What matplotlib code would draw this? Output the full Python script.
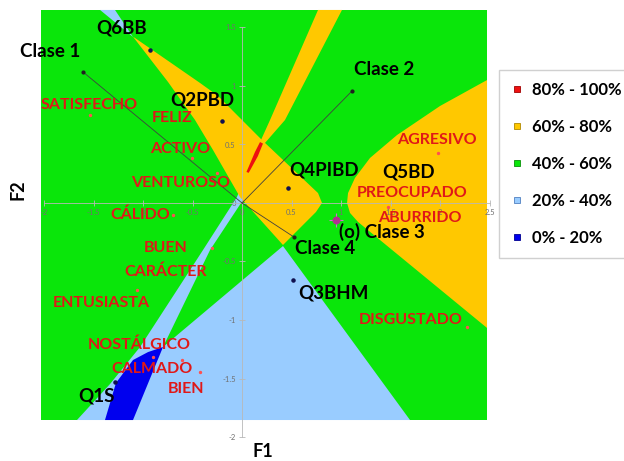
import matplotlib
matplotlib.use("Agg")
import matplotlib.pyplot as plt
from matplotlib.patches import Polygon, Rectangle
from matplotlib.lines import Line2D
from matplotlib.ticker import FuncFormatter

plt.rcParams['font.family'] = ['Lato', 'DejaVu Sans']

# ---- datos (coordenadas F1, F2) ----
# extension del mapa de probabilidad
mapa_f1 = [-2.03, 2.475]
mapa_f2 = [-1.855, 1.65]

# zonas del mapa (vertices F1, F2)
zona_60_80_izq = [(-1.10, 1.42), (-0.747, 1.034), (-0.475, 0.71), (-0.293, 0.453),
                  (-0.02, 0.05), (0.414, -0.359), (0.747, -0.077), (0.808, 0.0),
                  (0.768, 0.085), (0.202, 0.538), (-0.242, 0.915), (-0.424, 1.026),
                  (-1.08, 1.41)]
zona_60_80_fina = [(0.768, 1.65), (1.010, 1.65), (0.434, 0.709), (0.232, 0.513),
                   (0.081, 0.282), (0.030, 0.239), (0.101, 0.368), (0.283, 0.709)]
zona_60_80_der = [(2.475, 1.051), (2.0, 0.829), (1.566, 0.581), (1.293, 0.385),
                  (1.141, 0.214), (1.071, 0.085), (1.061, 0.0), (1.091, -0.085),
                  (1.172, -0.162), (2.475, -1.068)]
zona_80_100 = [(0.045, 0.265), (0.131, 0.436), (0.182, 0.521), (0.212, 0.508),
               (0.160, 0.400), (0.068, 0.258)]
zona_20_40 = [(-0.010, 0.137), (0.030, 0.051), (-0.323, -0.402), (-0.798, -1.231),
              (0.414, -0.368), (1.697, -1.855), (-1.667, -1.855), (-1.333, -1.547),
              (-1.030, -1.231), (-0.394, -0.402), (-0.051, 0.051)]
zona_20_40_sup = [(-1.434, 1.65), (-1.283, 1.65), (-1.101, 1.419)]
zona_0_20 = [(-0.798, -1.231), (-0.949, -1.274), (-1.101, -1.342), (-1.273, -1.538),
             (-1.384, -1.855), (-1.101, -1.855), (-0.939, -1.521)]

# clases (vectores desde el origen)
clases = ['Clase 1', 'Clase 2', 'Clase 4']
clases_f1 = [-1.606, 1.111, 0.525]
clases_f2 = [1.120, 0.957, -0.291]
clase3_f1, clase3_f2 = 0.949, -0.145

# preguntas
preguntas = ['Q6BB', 'Q2PBD', 'Q4PIBD', 'Q3BHM', 'Q1S']
preguntas_f1 = [-0.929, -0.202, 0.465, 0.515, -1.283]
preguntas_f2 = [1.308, 0.701, 0.128, -0.658, -1.530]

# emociones (puntos rojos)
emociones_f1 = [-1.535, -0.505, -0.253, -0.697, -0.303, -1.061, -0.899, -0.606,
                -0.424, 1.980, 1.475, 2.273]
emociones_f2 = [0.752, 0.385, 0.256, -0.103, -0.385, -0.744, -1.316, -1.342,
                -1.444, 0.427, -0.034, -1.060]

# leyenda
rangos = ['80% - 100%', '60% - 80%', '40% - 60%', '20% - 40%', '0% - 20%']
colores = ['#ee1010', '#ffc800', '#0ae60a', '#99ccff', '#0000ee']
bordes = ['#a00000', '#b08800', '#089008', '#5080c0', '#000090']

# ---- posiciones de etiquetas (F1, F2) ----
etiquetas_negras = [('Q6BB', -1.212, 1.496), ('Clase 1', -1.939, 1.291),
                    ('Q2PBD', -0.404, 0.880), ('Clase 2', 1.434, 1.137),
                    ('Q4PIBD', 0.828, 0.282), ('Q5BD', 1.687, 0.262),
                    ('(o) Clase 3', 1.414, -0.248), ('Clase 4', 0.838, -0.385),
                    ('Q3BHM', 0.919, -0.769), ('Q1S', -1.475, -1.650)]
etiquetas_rojas = [('SATISFECHO', -1.545, 0.838), ('FELIZ', -0.707, 0.726),
                   ('ACTIVO', -0.626, 0.462), ('VENTUROSO', -0.616, 0.171),
                   ('CÁLIDO', -1.030, -0.103), ('BUEN', -0.768, -0.385),
                   ('CARÁCTER', -0.768, -0.590), ('ENTUSIASTA', -1.424, -0.855),
                   ('NOSTÁLGICO', -1.040, -1.214), ('CALMADO', -0.909, -1.419),
                   ('BIEN', -0.566, -1.590), ('AGRESIVO', 1.970, 0.538),
                   ('PREOCUPADO', 1.717, 0.085), ('ABURRIDO', 1.798, -0.128),
                   ('DISGUSTADO', 1.707, -1.0)]

fig = plt.figure(figsize=(6.24, 4.61), dpi=100)
ax = fig.add_axes([0, 0, 1, 1])
ax.set_xlim(-242 / 99, 382 / 99)
ax.set_ylim(-258 / 117, 203 / 117)
ax.set_facecolor('none')

# mapa
ax.add_patch(Rectangle((mapa_f1[0], mapa_f2[0]), mapa_f1[1] - mapa_f1[0],
                       mapa_f2[1] - mapa_f2[0], facecolor=colores[2], edgecolor='none', zorder=0))
for zona, col in [(zona_20_40, colores[3]), (zona_20_40_sup, colores[3]),
                  (zona_0_20, colores[4]), (zona_60_80_izq, colores[1]),
                  (zona_60_80_der, colores[1]), (zona_60_80_fina, colores[1]),
                  (zona_80_100, colores[0])]:
    ax.add_patch(Polygon(zona, closed=True, facecolor=col, edgecolor='none', zorder=1))

# ejes cruzados en el origen
for lado in ['top', 'right']:
    ax.spines[lado].set_visible(False)
ax.spines['left'].set_position(('data', 0))
ax.spines['bottom'].set_position(('data', 0))
ax.spines['left'].set_bounds(-2, 1.5)
ax.spines['bottom'].set_bounds(-2, 2.5)
for lado in ['left', 'bottom']:
    ax.spines[lado].set_color('#b8b8b8')
    ax.spines[lado].set_linewidth(0.6)
ax.set_xticks([-2, -1.5, -1, -0.5, 0, 0.5, 1, 1.5, 2, 2.5])
ax.set_yticks([-2, -1.5, -1, -0.5, 0, 0.5, 1, 1.5])
fmt = FuncFormatter(lambda v, p: '{:g}'.format(v))
ax.xaxis.set_major_formatter(fmt)
ax.yaxis.set_major_formatter(fmt)
ax.tick_params(direction='inout', length=5, width=0.6, color='#b8b8b8',
               labelsize=5.5, labelcolor='#707070', pad=2)

# vectores de clases
for f1, f2 in zip(clases_f1, clases_f2):
    ax.plot([0, f1], [0, f2], color='#404040', lw=0.6, zorder=3)
ax.scatter(clases_f1, clases_f2, s=4, color='#202020', zorder=4)
ax.scatter([clase3_f1], [clase3_f2], s=90, marker='+', color='#d070d0', lw=0.8, zorder=4)
ax.scatter([clase3_f1], [clase3_f2], s=22, marker='o', color='#b03090', zorder=5)

ax.scatter(preguntas_f1, preguntas_f2, s=5, color='#101050', zorder=4)
ax.scatter(emociones_f1, emociones_f2, s=2, color='#ff5050', zorder=4)

for txt, x, y in etiquetas_negras:
    ax.text(x, y, txt, fontsize=13.5, fontweight='bold', color='black',
            ha='center', va='center', zorder=6)
for txt, x, y in etiquetas_rojas:
    ax.text(x, y, txt, fontsize=11.5, fontweight='bold', color='#e01818',
            ha='center', va='center', zorder=6)

ax.text(-2.263, 0.111, 'F2', fontsize=13, fontweight='bold', rotation=90,
        ha='center', va='center')
ax.text(0.212, -2.128, 'F1', fontsize=13, fontweight='bold', ha='center', va='center')

manejadores = [Line2D([], [], marker='s', linestyle='none', markersize=4.5,
                      markerfacecolor=c, markeredgecolor=b, markeredgewidth=0.6)
               for c, b in zip(colores, bordes)]
ax.legend(manejadores, rangos, loc='upper left', bbox_to_anchor=(499 / 624, 1 - 70 / 461),
          bbox_transform=fig.transFigure, prop={'weight': 'bold', 'size': 12},
          frameon=True, fancybox=False, edgecolor='#d0d0d0', framealpha=1,
          handlelength=0.8, handletextpad=0.5, labelspacing=1.27, borderpad=0.7,
          borderaxespad=0)

fig.savefig('out.png', dpi=100)
